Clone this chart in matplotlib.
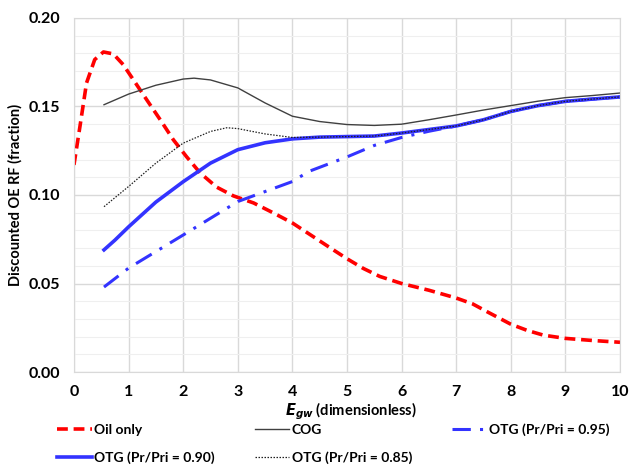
import matplotlib.pyplot as plt
import numpy as np

plt.rcParams['font.family'] = ['Lato', 'DejaVu Sans']
plt.rcParams['font.weight'] = 'bold'

# Oil only
x_oil = [0.0, 0.11, 0.23, 0.38, 0.54, 0.72, 0.9, 1.09, 1.33, 1.58, 1.82, 2.06, 2.31, 2.61, 2.92, 3.29, 3.65, 4.0, 4.38,
         4.7, 5.0, 5.3, 5.6, 6.0, 6.5, 7.0, 7.3, 7.6, 8.0, 8.3, 8.6, 9.0, 9.5, 10.0]
y_oil = [0.117, 0.1388, 0.1633, 0.1765, 0.1808, 0.1797, 0.1737, 0.165, 0.1539, 0.1425, 0.1312, 0.1217, 0.1125, 0.1045,
         0.0995, 0.0955, 0.0899, 0.0842, 0.0765, 0.070, 0.064, 0.0585, 0.054, 0.050, 0.0462, 0.0418, 0.0385, 0.0335,
         0.027, 0.0235, 0.0208, 0.019, 0.0178, 0.0168]

# COG
x_cog = [0.55, 1.0, 1.5, 2.0, 2.2, 2.5, 3.0, 3.5, 4.0, 4.5, 5.0, 5.5, 6.0, 6.5, 7.0, 7.5, 8.0, 8.5, 9.0, 9.5, 10.0]
y_cog = [0.151, 0.157, 0.162, 0.1655, 0.166, 0.165, 0.1605, 0.152, 0.1445, 0.1415, 0.1398, 0.1393, 0.140, 0.1425,
         0.1452, 0.148, 0.1505, 0.153, 0.155, 0.1562, 0.1576]

# OTG (Pr/Pri = 0.95)
x_95 = [0.55, 1.0, 2.0, 3.0, 4.0, 4.3, 5.0, 5.5, 6.0, 6.5, 7.0, 7.5, 8.0, 8.5, 9.0, 9.5, 10.0]
y_95 = [0.048, 0.0587, 0.0774, 0.0963, 0.1076, 0.1133, 0.1215, 0.128, 0.1325, 0.136, 0.139, 0.1425, 0.1472, 0.1505,
        0.1529, 0.1542, 0.1554]

# OTG (Pr/Pri = 0.90)
x_90 = [0.55, 0.75, 1.0, 1.5, 2.0, 2.5, 3.0, 3.5, 4.0, 4.5, 5.0, 5.5, 6.0, 6.5, 7.0, 7.5, 8.0, 8.5, 9.0, 9.5, 10.0]
y_90 = [0.069, 0.0745, 0.082, 0.096, 0.1075, 0.118, 0.1256, 0.1295, 0.1317, 0.1327, 0.133, 0.1333, 0.135, 0.137,
        0.139, 0.1425, 0.1472, 0.1505, 0.1529, 0.1542, 0.1554]

# OTG (Pr/Pri = 0.85)
x_85 = [0.55, 1.0, 1.5, 2.0, 2.5, 2.8, 3.0, 3.5, 4.0, 4.5, 5.0, 5.5, 6.0, 6.5, 7.0, 7.5, 8.0, 8.5, 9.0, 9.5, 10.0]
y_85 = [0.0934, 0.1048, 0.118, 0.1293, 0.1359, 0.138, 0.1375, 0.1345, 0.1325, 0.1327, 0.133, 0.1333, 0.135, 0.137,
        0.139, 0.1425, 0.1472, 0.1505, 0.1529, 0.1542, 0.1554]

fig = plt.figure(figsize=(6.29, 4.67), dpi=100)
ax = fig.add_axes([0.1176, 0.2034, 0.8681, 0.7581])

l_oil, = ax.plot(x_oil, y_oil, color='#ff0000', lw=2.6, dashes=(3, 1.6), label='Oil only')
l_cog, = ax.plot(x_cog, y_cog, color='#404040', lw=1.0, label='COG')
l_95, = ax.plot(x_95, y_95, color='#3333ff', lw=2.2, dashes=(6, 3, 1, 3), label='OTG (Pr/Pri = 0.95)')
l_90, = ax.plot(x_90, y_90, color='#3333ff', lw=2.6, label='OTG (Pr/Pri = 0.90)')
l_85, = ax.plot(x_85, y_85, color='#202020', lw=0.9, dashes=(1.2, 1.2), label='OTG (Pr/Pri = 0.85)')

ax.set_xlim(0, 10)
ax.set_ylim(0, 0.20)
ax.set_xticks(np.arange(0, 11, 1))
ax.set_yticks([0.0, 0.05, 0.10, 0.15, 0.20])
ax.set_yticklabels(['0.00', '0.05', '0.10', '0.15', '0.20'])
ax.set_yticks(np.arange(0, 0.2001, 0.01), minor=True)
ax.grid(which='major', color='#d9d9d9', lw=1.0)
ax.grid(which='minor', axis='y', color='#efefef', lw=0.8)
ax.set_axisbelow(True)
ax.tick_params(which='both', length=0, labelsize=11.5)
ax.tick_params(axis='y', pad=10)
ax.tick_params(axis='x', pad=9)
for s in ax.spines.values():
    s.set_color('#d9d9d9')

ax.set_ylabel('Discounted OE RF (fraction)', fontsize=10.5, fontweight='bold', labelpad=4)
fig.text(0.558, 0.119, '$\\mathbf{\\mathit{E}}_{\\mathbf{\\mathit{gw}}}$ (dimensionless)', ha='center', va='center',
         fontsize=10.5, fontweight='bold')

fig.legend([l_oil, l_90, l_cog, l_85, l_95],
           ['Oil only', 'OTG (Pr/Pri = 0.90)', 'COG', 'OTG (Pr/Pri = 0.85)', 'OTG (Pr/Pri = 0.95)'],
           loc='upper left', bbox_to_anchor=(0.0906, 0.094), ncol=3, frameon=False, fontsize=10,
           handlelength=2.5, handletextpad=0.15, columnspacing=2.9, labelspacing=1.15,
           borderpad=0, borderaxespad=0)

fig.savefig('out.png', dpi=100)
